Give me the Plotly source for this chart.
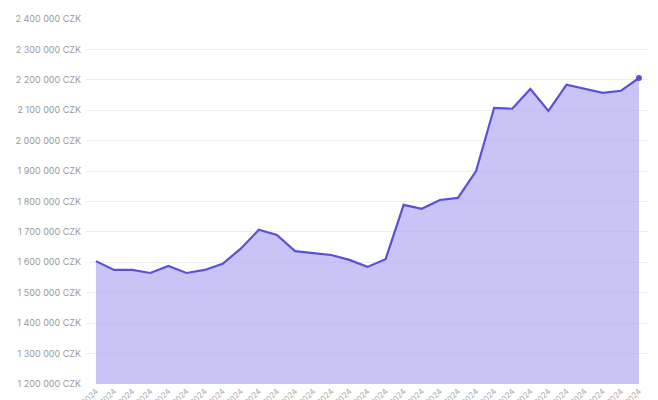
import plotly.graph_objects as go

dates = [f"{d:02d}.10.2024" for d in range(1, 32)]
values = [1604000,1575000,1575000,1565000,1588000,1565000,1575000,1595000,1645000,1707000,
          1690000,1637000,1630000,1624000,1608000,1585000,1610000,1789000,1776000,1805000,
          1812000,1900000,2108000,2105000,2170000,2098000,2184000,2170000,2157000,2164000,2206000]
tick_vals = list(range(1200000, 2400001, 100000))
tick_text = [f"{v:,}".replace(",", " ") + " CZK" for v in tick_vals]

fig = go.Figure()
fig.add_trace(go.Scatter(x=dates, y=values, mode="lines", fill="tozeroy",
                         line=dict(color="#5b50d6", width=2.2),
                         fillcolor="rgba(170,165,240,0.65)"))
fig.add_trace(go.Scatter(x=[dates[-1]], y=[values[-1]], mode="markers",
                         marker=dict(color="#5b50d6", size=6)))
fig.update_layout(
    width=658, height=400, showlegend=False,
    margin=dict(l=78, r=18, t=11, b=24),
    paper_bgcolor="white", plot_bgcolor="white",
    font=dict(family="Inter", size=9, color="#9a9a9a"),
)
fig.update_xaxes(range=[-0.55, 30.5], tickangle=-45, showgrid=False, showline=False,
                 tickfont=dict(size=8, color="#aaaaaa"), automargin=False)
fig.update_yaxes(range=[1200000, 2400000], tickvals=tick_vals, ticktext=tick_text,
                 gridcolor="#eeeeee", zeroline=False, ticks="", ticklabelstandoff=4,
                 automargin=False)
fig.write_html("out.html")
